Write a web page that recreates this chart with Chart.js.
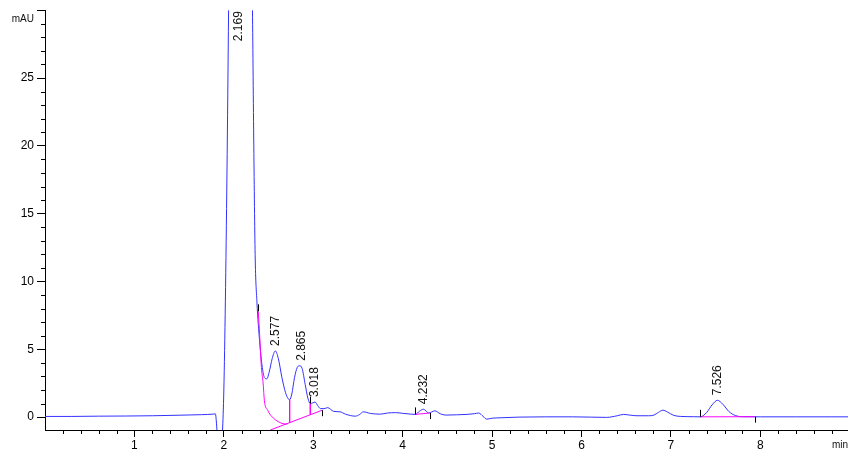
<!DOCTYPE html>
<html>
<head>
<meta charset="utf-8">
<script src="https://cdn.jsdelivr.net/npm/chart.js@4.4.0/dist/chart.umd.min.js"></script>
<style>
  html, body { margin: 0; padding: 0; background: #fff; }
  #wrap { width: 848px; height: 450px; position: relative; }
</style>
</head>
<body>
<div id="wrap"><canvas id="chart"></canvas></div>
<script>
// signal trace (min, mAU)
const times = [0.00, 0.30, 0.60, 0.90, 1.20, 1.50, 1.75, 1.88, 1.905, 1.93, 1.96, 1.985,
  2.00, 2.017, 2.035, 2.053, 2.08, 2.12, 2.169, 2.22, 2.27, 2.305, 2.32, 2.335, 2.35, 2.37,
  2.40, 2.43, 2.455, 2.48, 2.51, 2.54, 2.576, 2.61, 2.65, 2.69, 2.72, 2.736, 2.76, 2.79,
  2.82, 2.848, 2.875, 2.91, 2.94, 2.967, 2.995, 3.02, 3.05, 3.08, 3.12, 3.16, 3.23, 3.30,
  3.36, 3.47, 3.52, 3.56, 3.64, 3.75, 3.83, 3.92, 4.00, 4.09, 4.14, 4.19, 4.232, 4.27,
  4.29, 4.36, 4.42, 4.48, 4.60, 4.72, 4.80, 4.85, 4.90, 4.94, 5.00, 5.09, 5.30, 5.60,
  5.90, 6.10, 6.28, 6.40, 6.47, 6.55, 6.62, 6.75, 6.81, 6.86, 6.91, 6.96, 7.03, 7.11,
  7.25, 7.33, 7.40, 7.46, 7.52, 7.58, 7.65, 7.72, 7.80, 8.00, 8.40, 8.80, 9.00];
const mAU = [0.05, 0.05, 0.07, 0.08, 0.10, 0.14, 0.18, 0.22, 0.24, -1.5, -3.0, -1.0,
  2.0, 8.5, 18, 30, 50, 66, 72, 66, 50, 36, 30, 20, 12, 8.5,
  5.6, 3.66, 2.9, 2.82, 3.4, 4.3, 4.88, 4.3, 2.9, 1.8, 1.35, 1.29, 1.7, 2.9,
  3.65, 3.78, 3.6, 2.4, 1.4, 1.0, 1.05, 1.11, 0.85, 0.63, 0.62, 0.70, 0.42, 0.39,
  0.22, 0.07, 0.20, 0.39, 0.27, 0.22, 0.30, 0.33, 0.28, 0.22, 0.20, 0.45, 0.58, 0.40,
  0.30, 0.46, 0.25, 0.15, 0.17, 0.20, 0.25, 0.30, 0.05, -0.15, -0.08, -0.05, 0.00, 0.02,
  0.02, 0.00, -0.02, 0.10, 0.20, 0.14, 0.10, 0.10, 0.15, 0.35, 0.51, 0.38, 0.13, 0.05,
  0.03, 0.02, 0.35, 0.90, 1.24, 0.95, 0.40, 0.12, 0.03, 0.02, 0.02, 0.02, 0.02];

// integration: tail skim of the main peak
const tailTimes = [2.385, 2.40, 2.42, 2.44, 2.453, 2.49, 2.54, 2.61, 2.69, 2.71];
const tailMAU = [7.8, 6.1, 3.66, 2.45, 1.24, 0.51, 0.02, -0.34, -0.51, -0.50];
// common baseline under the fused peaks
const baseTimes = [2.52, 3.10];
const baseMAU = [-0.95, 0.51];
// drop lines
const dropTimes = [2.736, 2.967];
const dropTop = [1.29, 1.0];
const dropBottom = [-0.41, 0.18];
// baselines of the small peaks
const base2Times = [4.14, 4.30];
const base2MAU = [0.20, 0.30];
const base3Times = [7.33, 7.935];
const base3MAU = [0.02, 0.03];

// peak start / end markers
const markTimes = [2.385, 2.967, 3.10, 4.14, 4.30, 7.33, 7.935];
const markMAU = [7.8, 1.0, 0.51, 0.20, 0.30, 0.02, 0.03];
const markUp = [true, true, false, true, false, true, false];

// retention time labels
const peakTimes = [2.169, 2.577, 2.865, 3.018, 4.232, 7.526];
const peakMAU = [null, 4.88, 3.78, 1.11, 0.58, 1.24];

// axis ticks
const xMajor = [1, 2, 3, 4, 5, 6, 7, 8];
const yMajor = [0, 5, 10, 15, 20, 25, 30];

const pts = (xs, ys) => xs.map((x, i) => ({ x: x, y: ys[i] }));
const FONT = '"Liberation Sans", Arial, sans-serif';
const MAGENTA = '#ff00ff';

const magenta = (data) => ({
  data: data, borderColor: MAGENTA, borderWidth: 1, pointRadius: 0, order: 0
});

const datasets = [
  {
    data: pts(times, mAU), borderColor: 'rgb(50,50,255)', borderWidth: 1,
    pointRadius: 0, cubicInterpolationMode: 'monotone', order: 1
  },
  Object.assign(magenta(pts(tailTimes, tailMAU)), { cubicInterpolationMode: 'monotone' }),
  magenta(pts(baseTimes, baseMAU)),
  magenta(pts(base2Times, base2MAU)),
  magenta(pts(base3Times, base3MAU))
];
dropTimes.forEach((t, i) => {
  datasets.push(magenta([{ x: t, y: dropTop[i] }, { x: t, y: dropBottom[i] }]));
});

const decorations = {
  id: 'decorations',
  afterDatasetsDraw (chart) {
    const { ctx, chartArea: area, scales: { x, y } } = chart;
    ctx.save();
    ctx.strokeStyle = '#000';
    ctx.lineWidth = 1;
    ctx.beginPath();
    // minor ticks
    for (let v = 1; v < 30; v++) {
      if (v % 5 === 0) continue;
      const py = Math.round(y.getPixelForValue(v)) + 0.5;
      ctx.moveTo(area.left - 4, py);
      ctx.lineTo(area.left, py);
    }
    for (let k = 1; k < 45; k++) {
      if (k % 5 === 0) continue;
      const px = Math.round(x.getPixelForValue(k / 5)) + 0.5;
      ctx.moveTo(px, area.bottom);
      ctx.lineTo(px, area.bottom + 4);
    }
    // integration markers
    markTimes.forEach((t, i) => {
      const px = Math.round(x.getPixelForValue(t)) + 0.5;
      const py = y.getPixelForValue(markMAU[i]);
      ctx.moveTo(px, py);
      ctx.lineTo(px, markUp[i] ? py - 7 : py + 6);
    });
    ctx.stroke();

    // retention time labels
    ctx.fillStyle = '#111';
    ctx.font = '12px ' + FONT;
    ctx.textAlign = 'left';
    ctx.textBaseline = 'middle';
    peakTimes.forEach((t, i) => {
      const px = x.getPixelForValue(t);
      const py = peakMAU[i] === null ? area.top + 31 : y.getPixelForValue(peakMAU[i]) - 5;
      ctx.save();
      ctx.translate(px, py);
      ctx.rotate(-Math.PI / 2);
      ctx.fillText(t.toFixed(3), 0, 0);
      ctx.restore();
    });

    // unit labels
    ctx.font = '10px ' + FONT;
    ctx.textAlign = 'right';
    ctx.fillText('mAU', area.left - 11, area.top + 9);
    ctx.fillText('min', chart.width, area.bottom + 15);
    ctx.restore();
  }
};

new Chart(document.getElementById('chart'), {
  type: 'line',
  data: { datasets: datasets },
  options: {
    responsive: true,
    maintainAspectRatio: false,
    animation: false,
    layout: { padding: { top: 4, right: 0, left: 0, bottom: 0 } },
    plugins: { legend: { display: false }, tooltip: { enabled: false } },
    scales: {
      x: {
        type: 'linear', min: 0, max: 8.98,
        afterBuildTicks: (scale) => { scale.ticks = xMajor.map(v => ({ value: v })); },
        afterFit: (scale) => { scale.height = 20; },
        grid: { drawOnChartArea: false, tickLength: 7, tickColor: '#000' },
        border: { color: '#000' },
        ticks: { padding: 1, color: '#000', font: { family: FONT, size: 12 }, maxRotation: 0 }
      },
      y: {
        type: 'linear', min: -0.95, max: 30,
        afterBuildTicks: (scale) => { scale.ticks = yMajor.map(v => ({ value: v })); },
        afterFit: (scale) => { scale.width = 45; },
        grid: { drawOnChartArea: false, tickLength: 8, tickColor: '#000' },
        border: { color: '#000' },
        ticks: {
          padding: 3, color: '#000', font: { family: FONT, size: 12 },
          callback: (v) => (v === 30 ? '' : String(v))
        }
      }
    }
  },
  plugins: [decorations]
});
</script>
</body>
</html>
